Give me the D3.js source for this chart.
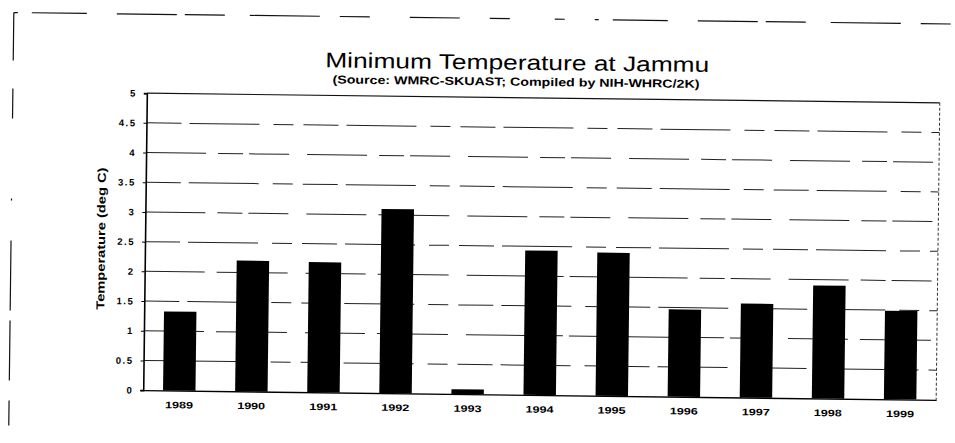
<!DOCTYPE html>
<html>
<head>
<meta charset="utf-8">
<script src="https://cdn.jsdelivr.net/npm/d3@7"></script>
<style>
  body { margin: 0; background: #fff; }
  svg { display: block; font-family: "Liberation Sans", Arial, sans-serif; }
</style>
</head>
<body>
<svg id="chart" width="955" height="443"></svg>
<script>
const years = ["1989", "1990", "1991", "1992", "1993", "1994", "1995", "1996", "1997", "1998", "1999"];
const minTemp = [1.33, 2.2, 2.19, 3.1, 0.08, 2.43, 2.41, 1.47, 1.58, 1.9, 1.49];
const yTicks = [0, 0.5, 1, 1.5, 2, 2.5, 3, 3.5, 4, 4.5, 5];
const yTickLabels = ["0", "0.5", "1", "1.5", "2", "2.5", "3", "3.5", "4", "4.5", "5"];

const width = 955;
const height = 443;
const plot = { left: 145, right: 938, top: 98, bottom: 395 };

const svgEl = d3.select("#chart");
svgEl.selectAll("*").remove();

// the scanned page sits slightly skewed, so turn everything a little
const svg = svgEl.append("g")
  .attr("transform", "rotate(0.7, 541.5, 246.5)");

// outer frame (only top and left survived the scan)
svg.append("line")
  .attr("x1", 11).attr("x2", 948).attr("y1", 19).attr("y2", 19)
  .attr("stroke", "#111").attr("stroke-width", 1.2)
  .attr("stroke-dasharray", "4,14,55,30,60,8,40,25,70,20,30,40,50,30,20,45,10,30");
svg.append("line")
  .attr("x1", 11).attr("x2", 11).attr("y1", 19).attr("y2", 432)
  .attr("stroke", "#111").attr("stroke-width", 1.2)
  .attr("stroke-dasharray", "48,28,30,80,2,40,70,10,60,20");

// titles
svg.append("text")
  .attr("x", 515).attr("y", 70)
  .attr("text-anchor", "middle")
  .attr("font-size", 21)
  .attr("textLength", 384).attr("lengthAdjust", "spacingAndGlyphs")
  .text("Minimum Temperature at Jammu");
svg.append("text")
  .attr("x", 514).attr("y", 86)
  .attr("text-anchor", "middle")
  .attr("font-size", 11.5).attr("font-weight", "bold")
  .attr("textLength", 367).attr("lengthAdjust", "spacingAndGlyphs")
  .text("(Source: WMRC-SKUAST; Compiled by NIH-WHRC/2K)");

// scales
const x = d3.scaleBand()
  .domain(years)
  .range([plot.left, plot.right])
  .paddingInner(0.55)
  .paddingOuter(0.275);
const y = d3.scaleLinear().domain([0, 5]).range([plot.bottom, plot.top]);

// grid
svg.append("g")
  .selectAll("line")
  .data(yTicks.filter(d => d > 0 && d < 5))
  .join("line")
  .attr("x1", plot.left).attr("x2", plot.right)
  .attr("y1", d => y(d)).attr("y2", d => y(d))
  .attr("stroke", "#222").attr("stroke-width", 1)
  .attr("stroke-dasharray", (d, i) => i % 2 ? "60,12,25,6,40,18" : "35,8,70,14,20,10");

// top and right border of the plot
svg.append("line")
  .attr("x1", plot.left).attr("x2", plot.right)
  .attr("y1", y(5)).attr("y2", y(5))
  .attr("stroke", "#111").attr("stroke-width", 1.2);
svg.append("line")
  .attr("x1", plot.right).attr("x2", plot.right)
  .attr("y1", y(5)).attr("y2", y(0))
  .attr("stroke", "#333").attr("stroke-width", 1)
  .attr("stroke-dasharray", "3,2");

// bars
svg.append("g")
  .selectAll("rect")
  .data(minTemp)
  .join("rect")
  .attr("x", (d, i) => x(years[i]))
  .attr("y", d => y(d))
  .attr("width", x.bandwidth())
  .attr("height", d => y(0) - y(d))
  .attr("fill", "#000");

// y axis
const yAxis = svg.append("g")
  .attr("transform", `translate(${plot.left},0)`)
  .call(d3.axisLeft(y)
    .tickValues(yTicks)
    .tickSize(3)
    .tickPadding(7)
    .tickFormat((d, i) => yTickLabels[i]));
yAxis.select(".domain").attr("stroke", "#000").attr("stroke-width", 1.6);
yAxis.selectAll(".tick line").attr("stroke", "#000");
yAxis.selectAll(".tick text")
  .attr("font-size", 9.5).attr("font-weight", "bold")
  .attr("font-family", "\"Liberation Sans\", Arial, sans-serif")
  .attr("letter-spacing", 1.5)
  .attr("fill", "#000");

// x axis
const xAxis = svg.append("g")
  .attr("transform", `translate(0,${plot.bottom})`)
  .call(d3.axisBottom(x).tickSize(0).tickPadding(11));
xAxis.select(".domain").attr("stroke", "#000").attr("stroke-width", 1.4);
xAxis.selectAll(".tick text")
  .attr("font-size", 9.5).attr("font-weight", "bold")
  .attr("font-family", "\"Liberation Sans\", Arial, sans-serif")
  .attr("textLength", 28).attr("lengthAdjust", "spacingAndGlyphs")
  .attr("fill", "#000");

// y axis title
svg.append("text")
  .attr("transform", "translate(105,244) rotate(-90)")
  .attr("text-anchor", "middle")
  .attr("font-size", 11.5).attr("font-weight", "bold")
  .attr("textLength", 142).attr("lengthAdjust", "spacingAndGlyphs")
  .text("Temperature (deg C)");
</script>
</body>
</html>
